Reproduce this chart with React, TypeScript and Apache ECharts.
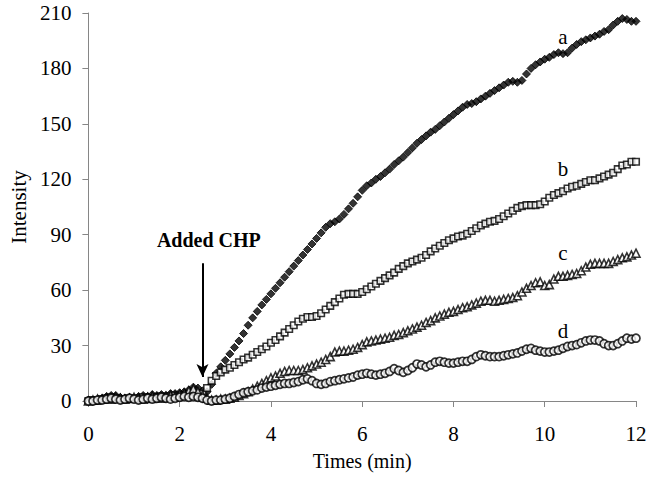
import React, { useEffect, useRef } from "react";
import * as echarts from "echarts";

const times = [
  0, 0.1, 0.2, 0.3, 0.4, 0.5, 0.6, 0.7, 0.8, 0.9,
  1, 1.1, 1.2, 1.3, 1.4, 1.5, 1.6, 1.7, 1.8, 1.9,
  2, 2.1, 2.2, 2.3, 2.4, 2.5, 2.6, 2.7, 2.8, 2.9,
  3, 3.1, 3.2, 3.3, 3.4, 3.5, 3.6, 3.7, 3.8, 3.9,
  4, 4.1, 4.2, 4.3, 4.4, 4.5, 4.6, 4.7, 4.8, 4.9,
  5, 5.1, 5.2, 5.3, 5.4, 5.5, 5.6, 5.7, 5.8, 5.9,
  6, 6.1, 6.2, 6.3, 6.4, 6.5, 6.6, 6.7, 6.8, 6.9,
  7, 7.1, 7.2, 7.3, 7.4, 7.5, 7.6, 7.7, 7.8, 7.9,
  8, 8.1, 8.2, 8.3, 8.4, 8.5, 8.6, 8.7, 8.8, 8.9,
  9, 9.1, 9.2, 9.3, 9.4, 9.5, 9.6, 9.7, 9.8, 9.9,
  10, 10.1, 10.2, 10.3, 10.4, 10.5, 10.6, 10.7, 10.8, 10.9,
  11, 11.1, 11.2, 11.3, 11.4, 11.5, 11.6, 11.7, 11.8, 11.9,
  12,
];

const seriesA = [
  0.5, 0, 0.5, 1.5, 2.5, 3, 3, 2, 1.5, 2,
  1.5, 2.5, 3, 2.5, 3.5, 3, 3.5, 3, 4, 4,
  4.5, 5, 6, 7.5, 7, 5.5, 5, 9, 15, 18.5,
  22, 25.5, 29, 32.5, 36.5, 41, 45, 48.5, 52, 55,
  58, 61, 64, 67, 70, 73, 76, 79, 82, 85,
  88, 91, 94, 96, 97, 98.5, 101, 104, 107, 110.5,
  114, 116.5, 118, 120, 121.5, 123.5, 125.5, 128, 130, 132,
  134.5, 137, 139.5, 141.5, 143.5, 145.5, 147, 149, 151, 153,
  155, 157, 159, 160.5, 161, 162, 163.5, 165, 166.5, 168,
  169.5, 171, 172.5, 173, 172.5, 173.5, 177, 180, 182, 183.5,
  185, 186, 187.5, 188.5, 188, 188.5, 191, 193, 194.5, 195.5,
  196.5, 197.5, 198.5, 200, 201, 203.5, 205.5, 207, 206.5, 205.5,
  205.5,
];

const seriesB = [
  0, 0.5, 0, 1, 1.5, 2, 1.5, 1, 1, 1.5,
  1, 1.5, 2, 1.5, 1, 2, 2.5, 2, 2.5, 3,
  2.5, 3, 3.5, 3, 2.5, 4, 7, 11, 13.5, 15.5,
  17, 18, 19.5, 21, 22.5, 23.5, 25, 26.5, 28, 29.5,
  31.5, 33, 35, 37, 39, 41, 43, 44.5, 45.5, 45.5,
  46, 47.5, 49.5, 51.5, 53.5, 55.5, 57.5, 58, 58, 58,
  59, 60.5, 62, 63.5, 65, 66.5, 68, 69.5, 71.5, 73,
  74.5, 75.5, 76.5, 77.5, 79, 81, 82.5, 84, 85.5, 87,
  88, 89, 89.5, 90.5, 92, 93.5, 95, 96, 97, 97.5,
  98.5, 100, 101.5, 103, 104.5, 105.5, 106, 106, 106, 106.5,
  108, 110, 111.5, 112.5, 113.5, 115, 116, 116.5, 117.5, 118.5,
  119.5, 119.5, 120.5, 121.5, 122.5, 123.5, 125.5, 127.5, 128, 129.5,
  129.5,
];

const seriesC = [
  0, 0.5, 1, 1, 1.5, 1, 2, 1.5, 1, 1.5,
  2, 1.5, 1, 2, 2.5, 2, 1.5, 2.5, 3, 2.5,
  3.5, 4, 5.5, 6.5, 5, 3, 1.5, 0.5, 0.5, 1,
  1, 1.5, 2, 3, 4, 5, 6.5, 8, 9.5, 11,
  12.5, 13.5, 15, 16, 16.5, 16.5, 16.5, 17, 18, 19,
  20, 21, 22.5, 24, 26.5, 27, 27, 27.5, 28, 29,
  30.5, 32, 32.5, 33, 33.5, 34, 34.5, 35.5, 36, 37,
  38, 39, 40, 41, 42.5, 43.5, 45, 46, 47, 48,
  48.5, 49.5, 50.5, 51, 52, 53, 54, 54.5, 54.5, 54,
  54.5, 55, 55.5, 56, 57, 59, 61, 62.5, 64, 64.5,
  62.5, 63, 66, 67.5, 67.5, 68, 68.5, 69, 70.5, 72.5,
  74, 74.5, 74.5, 74.5, 74.5, 75.5, 76.5, 77.5, 78, 79,
  80,
];

const seriesD = [
  0, 0, 0.5, 0.5, 1, 1.5, 1, 0.5, 1, 1.5,
  1, 0.5, 1, 1.5, 1, 1.5, 2, 1.5, 1, 1.5,
  2, 2.5, 2, 2.5, 2, 1.5, 0.5, 0, 0.5, 0.5,
  1, 1.5, 2.5, 3.5, 4.5, 5, 5.5, 6, 7, 7.5,
  8, 8.5, 9, 9.5, 9.5, 10, 10.5, 11.5, 12, 11,
  9.5, 9, 9.5, 10.5, 11, 11.5, 12, 12.5, 13, 14,
  14.5, 15, 14.5, 14, 14.5, 15, 16, 17.5, 16.5, 15.5,
  16.5, 18, 20, 19.5, 18.5, 19.5, 21, 21.5, 21, 20.5,
  20.5, 21, 21.5, 21.5, 22.5, 24, 25, 24.5, 24, 24,
  24, 24.5, 25, 25.5, 26, 27, 28, 28.5, 27.5, 27,
  26.5, 26.5, 27, 27.5, 28.5, 29.5, 30, 30.5, 31.5, 32.5,
  33, 33, 32.5, 31, 30, 30, 31, 32.5, 34, 33.5,
  34,
];

const curveLabels = ["a", "b", "c", "d"];
const curveLabelPos: [number, number][] = [
  [10.4, 197],
  [10.4, 125.5],
  [10.4, 80],
  [10.4, 38],
];
const arrowX = 2.5;
const arrowTop = 74.5;
const arrowBottom = 13;
const annotationText = "Added CHP";
const annotationPos: [number, number] = [2.64, 87];

const FONT = "'Liberation Serif', 'Times New Roman', serif";

function pairs(vals: number[]) {
  return times.map((t, i) => [t, vals[i]]);
}

export default function App() {
  const ref = useRef<HTMLDivElement>(null);
  useEffect(() => {
    if (!ref.current) return;
    const chart = echarts.init(ref.current, undefined, { renderer: "svg" });
    const axisLine = { show: true, lineStyle: { color: "#868686", width: 1 } };
    const axisTick = { show: true, inside: false, length: 6, lineStyle: { color: "#868686", width: 1 } };
    chart.setOption({
      animation: false,
      backgroundColor: "#ffffff",
      grid: { left: 83, right: 16, top: 13, bottom: 83, containLabel: false },
      xAxis: {
        type: "value",
        min: 0,
        max: 12,
        interval: 2,
        axisLine,
        axisTick,
        splitLine: { show: false },
        axisLabel: { color: "#000", fontFamily: FONT, fontSize: 21, margin: 22 },
        name: "Times (min)",
        nameLocation: "middle",
        nameGap: 50,
        nameTextStyle: { color: "#000", fontFamily: FONT, fontSize: 20 },
      },
      yAxis: {
        type: "value",
        min: 0,
        max: 210,
        interval: 30,
        axisLine,
        axisTick,
        splitLine: { show: false },
        axisLabel: { color: "#000", fontFamily: FONT, fontSize: 21, margin: 17 },
        name: "Intensity",
        nameLocation: "middle",
        nameGap: 56,
        nameTextStyle: { color: "#000", fontFamily: FONT, fontSize: 21 },
      },
      series: [
        {
          name: "a",
          type: "scatter",
          data: pairs(seriesA),
          symbol: "diamond",
          symbolSize: 8,
          itemStyle: { color: "#000", borderColor: "#000", borderWidth: 1 },
          markLine: {
            silent: true,
            symbol: ["none", "arrow"],
            symbolSize: [9, 13],
            label: { show: false },
            lineStyle: { color: "#000", width: 2, type: "solid" },
            data: [[{ coord: [arrowX, arrowTop] }, { coord: [arrowX, arrowBottom] }]],
          },
        },
        {
          name: "b",
          type: "scatter",
          data: pairs(seriesB),
          symbol: "rect",
          symbolSize: 6.5,
          itemStyle: { color: "#fff", borderColor: "#000", borderWidth: 1.6 },
        },
        {
          name: "c",
          type: "scatter",
          data: pairs(seriesC),
          symbol: "triangle",
          symbolSize: 8,
          itemStyle: { color: "#fff", borderColor: "#000", borderWidth: 1.6 },
        },
        {
          name: "d",
          type: "scatter",
          data: pairs(seriesD),
          symbol: "circle",
          symbolSize: 8,
          itemStyle: { color: "#fff", borderColor: "#000", borderWidth: 1.7 },
        },
      ],
    });
    const texts: any[] = curveLabels.map((lab, i) => {
      const p = chart.convertToPixel({ gridIndex: 0 }, curveLabelPos[i]) as number[];
      return {
        type: "text",
        x: p[0],
        y: p[1],
        style: {
          text: lab,
          fill: "#000",
          font: `21px ${FONT}`,
          align: "center",
          verticalAlign: "middle",
        },
      };
    });
    const ap = chart.convertToPixel({ gridIndex: 0 }, annotationPos) as number[];
    texts.push({
      type: "text",
      x: ap[0],
      y: ap[1],
      style: {
        text: annotationText,
        fill: "#000",
        font: `bold 20px ${FONT}`,
        align: "center",
        verticalAlign: "middle",
      },
    });
    chart.setOption({ graphic: texts });
    return () => chart.dispose();
  }, []);
  return (
    <div
      ref={ref}
      style={{ position: "fixed", left: 0, top: 0, width: 652, height: 484, background: "#fff" }}
    />
  );
}
